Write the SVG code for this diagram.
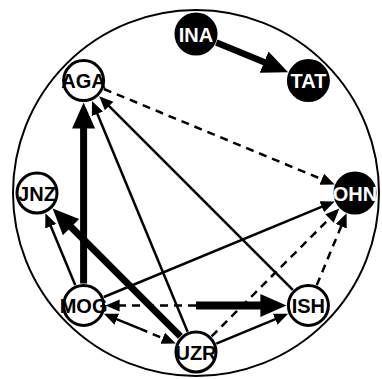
<svg xmlns="http://www.w3.org/2000/svg" width="382" height="379" viewBox="0 0 382 379">
<style>
.e{stroke:#000;fill:none;stroke-width:2.5}
.d{stroke-dasharray:8,6}
.t{stroke-width:7}
.w circle{fill:#fff;stroke:#000;stroke-width:3}
.b circle{fill:#000;stroke:#000;stroke-width:3}
text{font-family:"Liberation Sans",Arial,sans-serif;font-weight:bold;font-size:20px;text-anchor:middle}
.w text{fill:#000}
.b text{fill:#fff}
</style>
<defs>
<marker id="s" markerUnits="userSpaceOnUse" markerWidth="16" markerHeight="14" viewBox="0 -7 16 14" refX="1" refY="0" orient="auto"><path d="M0,-6L14,0L0,6z" fill="#000"/></marker>
<marker id="l" markerUnits="userSpaceOnUse" markerWidth="28" markerHeight="26" viewBox="0 -13 28 26" refX="1" refY="0" orient="auto"><path d="M0,-11.5L26,0L0,11.5z" fill="#000"/></marker>
</defs>
<circle cx="196" cy="193" r="183" fill="none" stroke="#000" stroke-width="2"/>
<g id="edges">
<line class="e" x1="216.3" y1="42.4" x2="265.0" y2="62.6" style="stroke-width:6.5" marker-end="url(#l)"/>
<line class="e d" x1="103.9" y1="89.0" x2="322.7" y2="179.6" marker-end="url(#s)"/>
<line class="e t" x1="83.6" y1="283.4" x2="83.6" y2="127.6" marker-end="url(#l)"/>
<line class="e" x1="187.6" y1="331.7" x2="97.0" y2="112.9" marker-end="url(#s)"/>
<line class="e" x1="292.8" y1="289.8" x2="108.4" y2="105.4" marker-end="url(#s)"/>
<line class="e" x1="75.2" y1="285.1" x2="50.4" y2="225.3" marker-end="url(#s)"/>
<line class="e t" x1="180.4" y1="336.4" x2="70.3" y2="226.3" marker-end="url(#l)"/>
<line class="e" x1="103.9" y1="297.0" x2="322.7" y2="206.4" marker-end="url(#s)"/>
<line class="e d" x1="211.6" y1="336.4" x2="330.2" y2="217.8" marker-end="url(#s)"/>
<line class="e d" x1="316.8" y1="285.1" x2="341.6" y2="225.3" marker-end="url(#s)"/>
<line class="e" x1="196" y1="305.4" x2="261.4" y2="305.4" style="stroke-width:8" marker-end="url(#l)"/>
<line class="e d" x1="196" y1="305.4" x2="118.6" y2="305.4" marker-end="url(#s)"/>
<line class="e" x1="139.8" y1="328.7" x2="115.9" y2="318.8" marker-end="url(#s)"/>
<line class="e d" x1="139.8" y1="328.7" x2="163.7" y2="338.6" marker-end="url(#s)"/>
<line class="e" x1="216.3" y1="343.6" x2="276.1" y2="318.8" marker-end="url(#s)"/>
</g>
<g id="INA" class="b"><circle cx="196" cy="34" r="20"/><text x="196" y="41.5">INA</text></g>
<g id="TAT" class="b"><circle cx="308.4" cy="80.6" r="20"/><text x="308.4" y="88.1">TAT</text></g>
<g id="OHN" class="b"><circle cx="355" cy="193" r="20"/><text x="355" y="200.5">OHN</text></g>
<g id="ISH" class="w"><circle cx="308.4" cy="305.4" r="20"/><text x="308.4" y="312.9">ISH</text></g>
<g id="UZR" class="w"><circle cx="196" cy="352" r="20"/><text x="196" y="359.5">UZR</text></g>
<g id="MOG" class="w"><circle cx="83.6" cy="305.4" r="20"/><text x="83.6" y="312.9">MOG</text></g>
<g id="JNZ" class="w"><circle cx="37" cy="193" r="20"/><text x="37" y="200.5">JNZ</text></g>
<g id="AGA" class="w"><circle cx="83.6" cy="80.6" r="20"/><text x="83.6" y="88.1">AGA</text></g>
</svg>
